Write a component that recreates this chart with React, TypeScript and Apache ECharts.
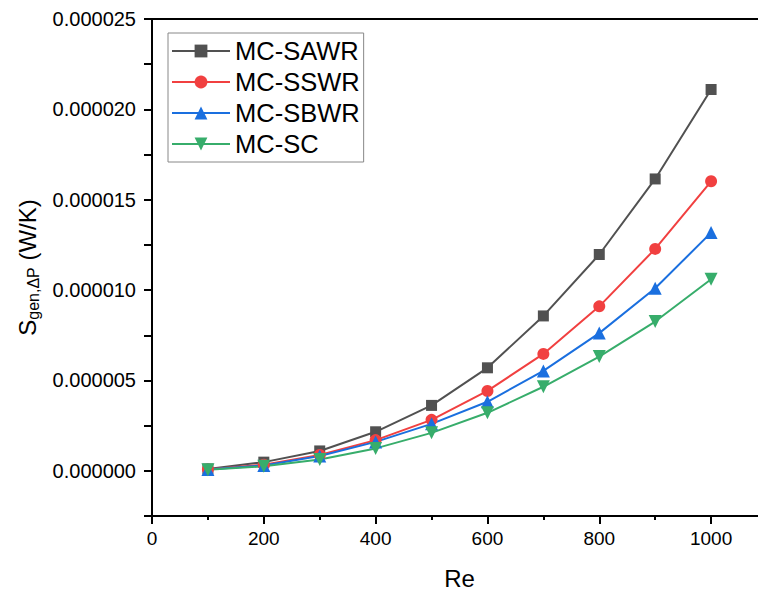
import React, { useEffect, useRef } from "react";
import * as echarts from "echarts";

const reValues = [100, 200, 300, 400, 500, 600, 700, 800, 900, 1000];
const sawr = [0.1e-6, 0.48e-6, 1.1e-6, 2.16e-6, 3.62e-6, 5.7e-6, 8.57e-6, 11.97e-6, 16.15e-6, 21.1e-6];
const sswr = [0.08e-6, 0.34e-6, 0.88e-6, 1.7e-6, 2.82e-6, 4.42e-6, 6.47e-6, 9.1e-6, 12.28e-6, 16.02e-6];
const sbwr = [0.07e-6, 0.3e-6, 0.82e-6, 1.6e-6, 2.6e-6, 3.82e-6, 5.53e-6, 7.62e-6, 10.1e-6, 13.18e-6];
const sc = [0.06e-6, 0.25e-6, 0.63e-6, 1.24e-6, 2.1e-6, 3.21e-6, 4.65e-6, 6.32e-6, 8.26e-6, 10.6e-6];
const seriesNames = ["MC-SAWR", "MC-SSWR", "MC-SBWR", "MC-SC"];
const colors = ["#515151", "#F14040", "#1A6FDF", "#37AD6B"];

const FONT = "Liberation Sans, Arial, sans-serif";

export default function App() {
  const ref = useRef<HTMLDivElement>(null);
  useEffect(() => {
    if (!ref.current) return;
    const chart = echarts.init(ref.current, undefined, { renderer: "svg" });
    const mk = (name: string, data: number[], color: string, symbol: string, rot: number, size: number) => ({
      name,
      type: "line",
      data: reValues.map((x, i) => [x, data[i]]),
      symbol,
      symbolSize: size,
      symbolRotate: rot,
      itemStyle: { color },
      lineStyle: { color, width: 2 },
      xAxisIndex: 0,
      yAxisIndex: 0,
    });
    chart.setOption({
      animation: false,
      textStyle: { fontFamily: FONT },
      grid: {
        left: 152,
        top: 19,
        height: 497,
        width: 615,
        outerBoundsMode: "none",
        show: true,
        borderColor: "#000",
        borderWidth: 2,
        containLabel: false,
      },
      legend: {
        orient: "vertical",
        left: 168,
        top: 33,
        data: seriesNames,
        itemWidth: 58,
        itemHeight: 16,
        itemGap: 5,
        padding: [5, 4, 5, 3],
        borderColor: "#888",
        borderWidth: 1,
        textStyle: { fontFamily: FONT, fontSize: 25.5, color: "#000", padding: [0, 0, 0, 0] },
      },
      xAxis: [
        {
          type: "value",
          min: 0,
          max: 1100,
          interval: 100,
          name: "Re",
          nameLocation: "middle",
          nameGap: 50,
          nameTextStyle: { fontFamily: FONT, fontSize: 24, color: "#000" },
          axisLine: { show: true, onZero: false, lineStyle: { color: "#000", width: 2 } },
          axisTick: { show: true, inside: false, length: 4, lineStyle: { color: "#000", width: 2 } },
          axisLabel: {
            fontFamily: FONT,
            fontSize: 19,
            color: "#000",
            margin: 13,
            formatter: (v: number) => (v % 200 === 0 && v <= 1000 ? String(v) : ""),
          },
          splitLine: { show: false },
        },
        {
          type: "value",
          min: 0,
          max: 1100,
          interval: 200,
          position: "bottom",
          axisLine: { show: true, onZero: false, lineStyle: { color: "#000", width: 2 } },
          axisTick: { show: true, inside: false, length: 8, lineStyle: { color: "#000", width: 2 } },
          axisLabel: { show: false },
          splitLine: { show: false },
        },
      ],
      yAxis: {
        type: "value",
        min: -2.5e-6,
        max: 2.5e-5,
        interval: 2.5e-6,
        name: "{a|S}{b|gen,ΔP}{a| (W/K)}",
        nameLocation: "middle",
        nameGap: 106,
        nameTextStyle: {
          fontFamily: FONT,
          color: "#000",
          rich: {
            a: { fontFamily: FONT, fontSize: 24, color: "#000" },
            b: { fontFamily: FONT, fontSize: 16, color: "#000", padding: [12, 0, 0, 0] },
          },
        },
        axisLine: { show: true, onZero: false, lineStyle: { color: "#000", width: 2 } },
        axisTick: { show: true, inside: false, length: 8, lineStyle: { color: "#000", width: 2 } },
        axisLabel: {
          fontFamily: FONT,
          fontSize: 20,
          color: "#000",
          margin: 16,
          formatter: (v: number) => {
            const k = Math.round(v * 1e7);
            return k >= 0 && k % 50 === 0 ? (k / 1e7).toFixed(6) : "";
          },
        },
        splitLine: { show: false },
      },
      series: [
        mk(seriesNames[0], sawr, colors[0], "rect", 0, 11),
        mk(seriesNames[1], sswr, colors[1], "circle", 0, 12),
        mk(seriesNames[2], sbwr, colors[2], "triangle", 0, 13),
        mk(seriesNames[3], sc, colors[3], "triangle", 180, 13),
      ],
    });
    return () => chart.dispose();
  }, []);
  return (
    <div style={{ width: 758, height: 594, position: "absolute", left: 0, top: 0, overflow: "hidden" }}>
      <div ref={ref} style={{ width: 758, height: 594 }} />
    </div>
  );
}
